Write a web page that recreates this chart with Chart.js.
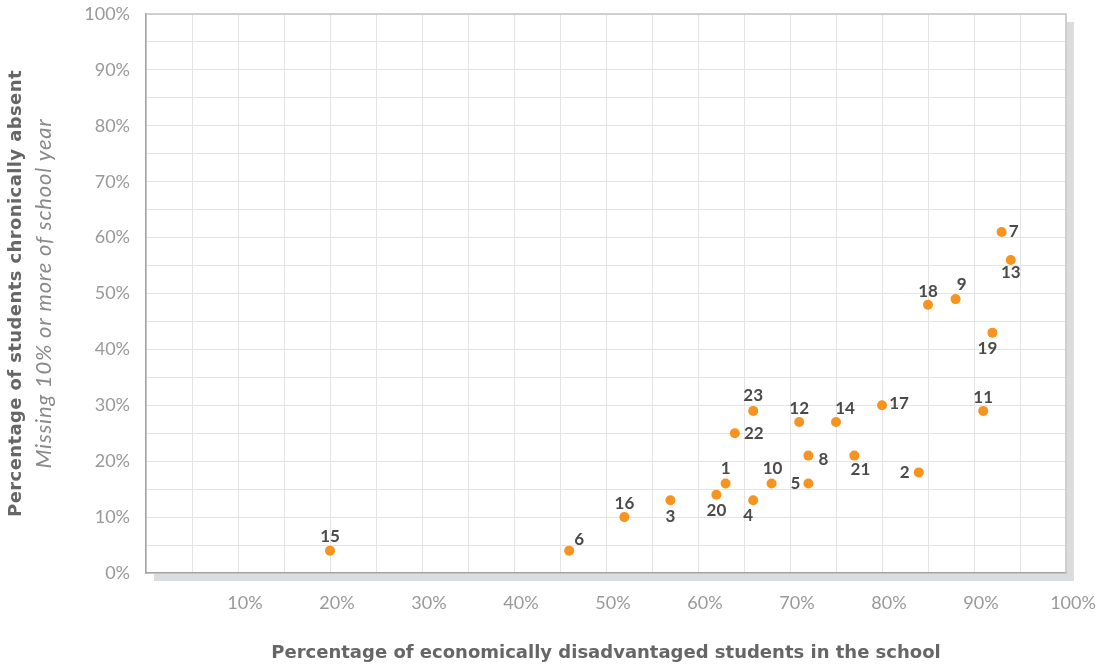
<!DOCTYPE html>
<html>
<head>
<meta charset="utf-8">
<script src="https://cdn.jsdelivr.net/npm/chart.js@4"></script>
<style>
  html, body { margin: 0; padding: 0; background: #ffffff; }
  #wrap { width: 1096px; height: 665px; position: relative; }
</style>
</head>
<body>
<div id="wrap"><canvas id="absenceChart"></canvas></div>
<script>
  // School numbers and their values (percent)
  const schoolIds = ["1", "2", "3", "4", "5", "6", "7", "8", "9", "10", "11", "12",
    "13", "14", "15", "16", "17", "18", "19", "20", "21", "22", "23"];
  const pctDisadvantaged = [63, 84, 57, 66, 72, 46, 93, 72, 88, 68, 91, 71,
    94, 75, 20, 52, 80, 85, 92, 62, 77, 64, 66];
  const pctAbsent = [16, 18, 13, 13, 16, 4, 61, 21, 49, 16, 29, 27,
    56, 27, 4, 10, 30, 48, 43, 14, 21, 25, 29];

  const xTitle = "Percentage of economically disadvantaged students in the school";
  const yTitle = "Percentage of students chronically absent";
  const ySubtitle = "Missing 10% or more of school year";

  // where each school number sits relative to its dot (dx, dy in px)
  const labelOffsets = {
    "1": [0, -15], "2": [-14, 0], "3": [0, 16], "4": [-5, 15], "5": [-13, 0],
    "6": [10, -11], "7": [12, 0], "8": [15, 4], "9": [6, -15], "10": [1, -15],
    "11": [0, -13], "12": [0, -14], "13": [0, 13], "14": [9, -14], "15": [0, -14],
    "16": [0, -14], "17": [17, -2], "18": [0, -13], "19": [-5, 16], "20": [0, 16],
    "21": [6, 14], "22": [19, 0], "23": [0, -15],
  };

  const dotColor = "#F7931E";
  const labelColor = "#4a4a4a";
  const tickColor = "#999999";

  // grey drop shadow + white plot background
  const plotBackground = {
    id: "plotBackground",
    beforeDraw(chart) {
      const { ctx, chartArea: a } = chart;
      ctx.save();
      ctx.fillStyle = "#dbdcdd";
      ctx.fillRect(a.left + 8, a.top + 8, a.right - a.left, a.bottom - a.top);
      ctx.fillStyle = "#ffffff";
      ctx.fillRect(a.left, a.top, a.right - a.left, a.bottom - a.top);
      ctx.restore();
    },
    afterDraw(chart) {
      const { ctx, chartArea: a } = chart;
      ctx.save();
      // top and right frame
      ctx.strokeStyle = "#c4c4c4";
      ctx.lineWidth = 1.5;
      ctx.beginPath();
      ctx.moveTo(a.left, a.top);
      ctx.lineTo(a.right, a.top);
      ctx.lineTo(a.right, a.bottom);
      ctx.stroke();
      ctx.restore();
    },
  };

  // school numbers next to the dots
  const pointLabels = {
    id: "pointLabels",
    afterDatasetsDraw(chart) {
      const { ctx } = chart;
      const meta = chart.getDatasetMeta(0);
      ctx.save();
      ctx.font = "bold 17px Lato";
      ctx.fillStyle = labelColor;
      ctx.textAlign = "center";
      ctx.textBaseline = "middle";
      meta.data.forEach((pt, i) => {
        const id = schoolIds[i];
        const off = labelOffsets[id] || [0, -14];
        ctx.fillText(id, pt.x + off[0], pt.y + off[1]);
      });
      ctx.restore();
    },
  };

  // axis titles (the y one has a bold line and an italic line)
  const axisTitles = {
    id: "axisTitles",
    afterDraw(chart) {
      const { ctx, chartArea: a } = chart;
      const midX = (a.left + a.right) / 2;
      const midY = (a.top + a.bottom) / 2;
      ctx.save();
      ctx.textAlign = "center";
      ctx.textBaseline = "middle";
      ctx.fillStyle = "#666666";
      ctx.font = "bold 18px 'DejaVu Sans'";
      ctx.fillText(xTitle, midX, 653);

      ctx.translate(16, midY);
      ctx.rotate(-Math.PI / 2);
      ctx.letterSpacing = "0.4px";
      ctx.fillText(yTitle, 0, 0);
      ctx.fillStyle = "#8a8a8a";
      ctx.font = "italic 22px Lato";
      ctx.letterSpacing = "0.8px";
      ctx.fillText(ySubtitle, 0, 28);
      ctx.restore();
    },
  };

  // keep the plot box where the reference has it (no tick-label overhang)
  function noOverhang(scale) {
    scale.paddingTop = 0;
    scale.paddingBottom = 0;
    scale.paddingLeft = 0;
    scale.paddingRight = 0;
  }

  function renderChart() {
    const chartElement = document.getElementById("absenceChart");
    new Chart(chartElement, {
      type: "scatter",
      data: {
        datasets: [
          {
            data: schoolIds.map((id, i) => ({ x: pctDisadvantaged[i], y: pctAbsent[i] })),
            backgroundColor: dotColor,
            borderColor: dotColor,
            pointRadius: 5,
            pointHoverRadius: 5,
            borderWidth: 0,
          },
        ],
      },
      options: {
        responsive: true,
        maintainAspectRatio: false,
        animation: false,
        layout: { padding: { top: 14, right: 30, left: 0, bottom: 0 } },
        plugins: {
          legend: { display: false },
          tooltip: { enabled: false },
        },
        scales: {
          x: {
            type: "linear",
            min: 0,
            max: 100,
            afterFit: (scale) => { scale.height = 92; noOverhang(scale); },
            border: { color: "#a3a3a3", width: 1.5 },
            grid: { color: "#e4e4e4", drawTicks: false },
            ticks: {
              stepSize: 5,
              padding: 19,
              labelOffset: 7,
              maxRotation: 0,
              minRotation: 0,
              autoSkip: false,
              color: tickColor,
              font: { family: "Lato", size: 18 },
              callback: (v) => (v > 0 && v % 10 === 0 ? v + "%" : ""),
            },
          },
          y: {
            min: 0,
            max: 100,
            afterFit: (scale) => { scale.width = 146; noOverhang(scale); },
            border: { color: "#a3a3a3", width: 1.5 },
            grid: { color: "#e4e4e4", drawTicks: false },
            ticks: {
              stepSize: 5,
              padding: 16,
              color: tickColor,
              font: { family: "Lato", size: 18 },
              callback: (v) => (v % 10 === 0 ? v + "%" : ""),
            },
          },
        },
      },
      plugins: [plotBackground, pointLabels, axisTitles],
    });
  }

  renderChart();
</script>
</body>
</html>
